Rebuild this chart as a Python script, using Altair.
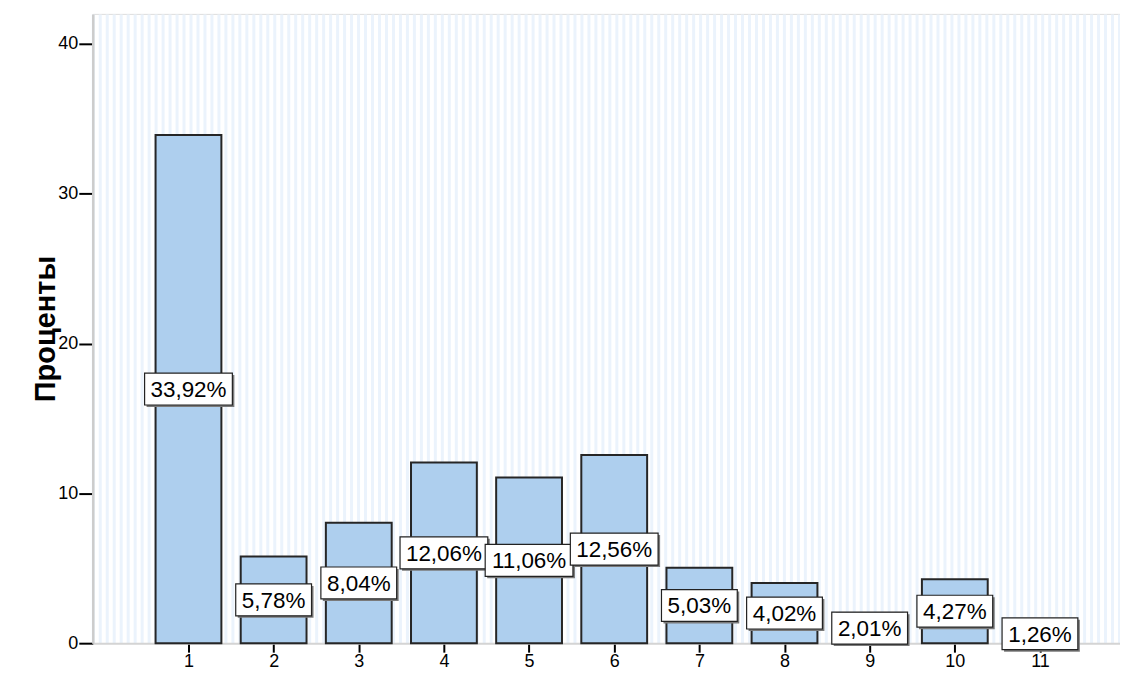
import altair as alt
import pandas as pd

categories = [1, 2, 3, 4, 5, 6, 7, 8, 9, 10, 11]
values = [33.92, 5.78, 8.04, 12.06, 11.06, 12.56, 5.03, 4.02, 2.01, 4.27, 1.26]
labels = ["33,92%", "5,78%", "8,04%", "12,06%", "11,06%", "12,56%",
          "5,03%", "4,02%", "2,01%", "4,27%", "1,26%"]

df = pd.DataFrame({"cat": categories, "val": values, "lab": labels})

FONT = "Liberation Sans"
xscale = alt.Scale(domain=[-0.124, 11.94], nice=False, zero=False, padding=0)
yscale = alt.Scale(domain=[0, 42], nice=False)

# decorative background stripes (axis grid)
stripe_vals = [round(-0.12 + i * 0.082, 3) for i in range(148)]

yaxis = alt.Axis(values=[0, 10, 20, 30, 40], title="Проценты", grid=False,
                 labelFontSize=18, labelColor="black", labelFont=FONT,
                 tickColor="black", tickWidth=2, tickSize=14, labelPadding=1,
                 domainColor="#cccccc", domainWidth=2.5,
                 titleFontSize=29, titleFontWeight="bold", titleColor="black",
                 titleFont=FONT, titleX=-32, titleBaseline="bottom")

base = alt.Chart(df)

stripes = base.mark_rule(opacity=0).encode(
    x=alt.X("cat:Q", scale=xscale,
            axis=alt.Axis(orient="top", values=stripe_vals, grid=True,
                          gridColor="#ebf3fc", gridWidth=3, labels=False,
                          ticks=False, domain=False, title=None)),
    y=alt.Y("val:Q", scale=yscale, axis=yaxis),
)

bars = base.mark_bar(size=66, color="#aecfee", stroke="#262626", strokeWidth=2).encode(
    x=alt.X("cat:Q", scale=xscale,
            axis=alt.Axis(orient="bottom", values=categories, title=None, grid=False,
                          labelFontSize=18, labelColor="black", labelFont=FONT,
                          tickColor="black", tickWidth=2, tickSize=9, labelPadding=0,
                          domainColor="#d4d4d4", domainWidth=2)),
    y=alt.Y("val:Q", scale=yscale, axis=yaxis),
)

lab = base.transform_calculate(mid="datum.val / 2", n="length(datum.lab)")

def boxes(n, half):
    f = lab.transform_filter(f"datum.n == {n}")
    shadow = f.mark_rect(color="#7a7a7a", xOffset=-half + 2, x2Offset=half + 2,
                         yOffset=-16 + 2, y2Offset=16 + 2).encode(
        x=alt.X("cat:Q", scale=xscale, axis=None), x2="cat:Q",
        y=alt.Y("mid:Q", scale=yscale, axis=yaxis), y2="mid:Q")
    box = f.mark_rect(color="white", stroke="#222222", strokeWidth=1.2,
                      xOffset=-half, x2Offset=half, yOffset=-16, y2Offset=16).encode(
        x=alt.X("cat:Q", scale=xscale, axis=None), x2="cat:Q",
        y=alt.Y("mid:Q", scale=yscale, axis=yaxis), y2="mid:Q")
    return shadow + box

texts = lab.mark_text(font=FONT, fontSize=22.5, color="black", baseline="middle",
                      align="center", dy=1).encode(
    x=alt.X("cat:Q", scale=xscale, axis=None),
    y=alt.Y("mid:Q", scale=yscale, axis=yaxis), text="lab:N")

chart = alt.layer(stripes, bars, boxes(6, 44), boxes(5, 38), texts).resolve_axis(
    x="independent"
).properties(
    width=1030, height=631,
    autosize=alt.AutoSizeParams(type="none"),
    padding={"left": 85, "top": 5, "right": 0, "bottom": 26},
).configure_view(fill="#d3e4f7", strokeWidth=0).configure(font=FONT)

chart.save("out.html", embed_options={"renderer": "svg", "actions": False})
